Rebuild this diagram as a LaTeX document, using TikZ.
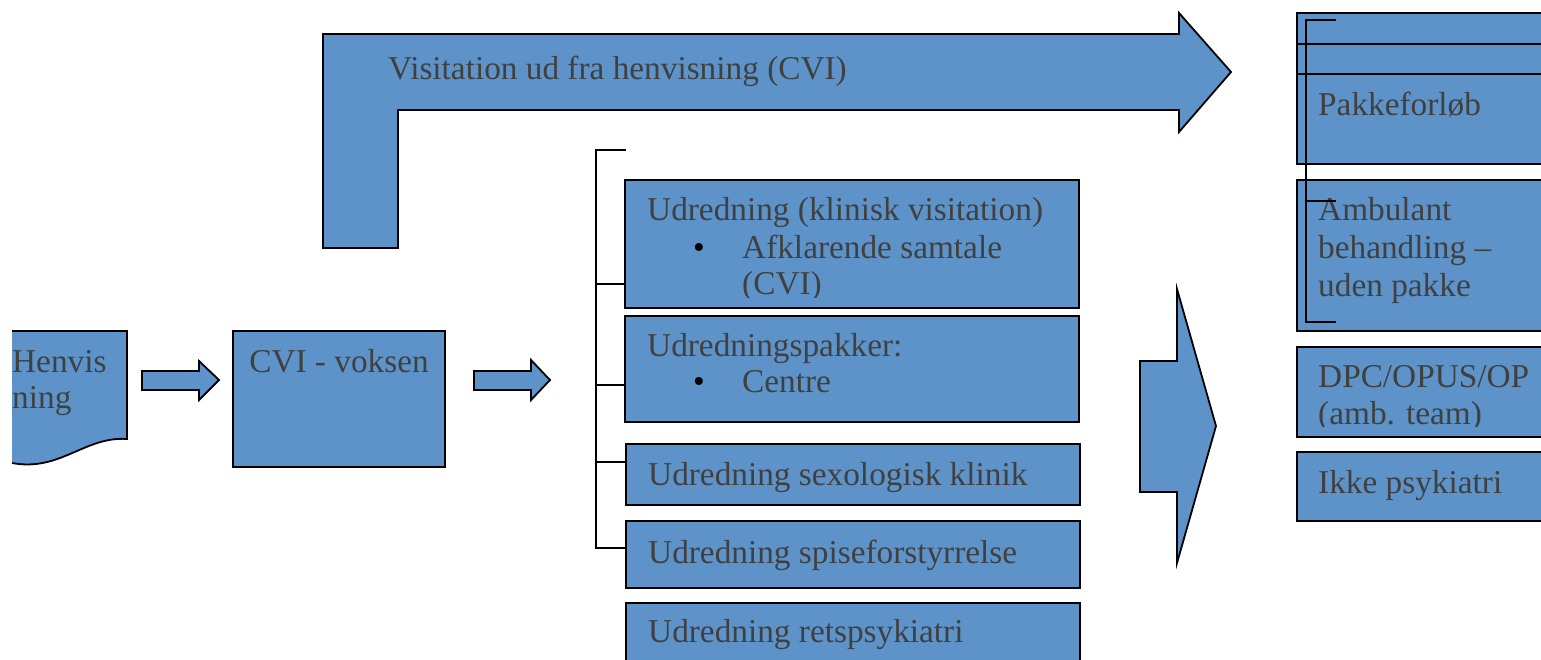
\documentclass[tikz,border=0pt]{standalone}
\usepackage{fontspec}
\setmainfont{Liberation Serif}
\usetikzlibrary{positioning}
\definecolor{boxblue}{RGB}{93,147,200}
\definecolor{txtgray}{RGB}{64,64,64}

\begin{document}
\begin{tikzpicture}[
  x=1pt, y=-1pt,
  box/.style={draw, fill=boxblue, line width=1.8pt, anchor=north west, inner sep=0pt, outer sep=0pt},
  bigarrow/.style={draw, fill=boxblue, line width=1.8pt, line join=miter},
  txt/.style={font=\fontsize{33.3}{36.5}\selectfont, text=txtgray, anchor=base west, inner sep=0pt},
  dot/.style={txt, text=black, anchor=base},
  brace/.style={line width=1.6pt}
]
\useasboundingbox (0,0) rectangle (1541,659);
\clip (0,0) rectangle (1541,659);

% --- Henvisning (dokument) ---
\path[fill=boxblue] (12,331) -- (127,331) -- (127,439)
  .. controls (85,436) and (60,472) .. (12,463) -- cycle;
\draw[line width=1.8pt] (12,331) -- (127,331) -- (127,439)
  .. controls (85,436) and (60,472) .. (12,463);
\node[txt] (henv1) at (12,372) {Henvis};
\node[txt] (henv2) at (12,408) {ning};

% --- Små pile ---
\draw[bigarrow] (142,371) -- (199,371) -- (199,361) -- (219,380) -- (199,400) -- (199,390) -- (142,390) -- cycle;
\draw[bigarrow] (474,371) -- (531,371) -- (531,360) -- (550,380) -- (531,400) -- (531,390) -- (474,390) -- cycle;

% --- CVI ---
\node[box, minimum width=212pt, minimum height=136pt] (cvi) at (233,331) {};
\node[txt, anchor=base] (cvit) at ([yshift=-41pt]cvi.north) {CVI - voksen};

% --- Visitation (vinkelpil) ---
\draw[bigarrow] (323,248) -- (323,34) -- (1179,34) -- (1179,13) -- (1231,72)
  -- (1179,132) -- (1179,110) -- (398,110) -- (398,248) -- cycle;
\node[txt] (visit) at (388,79) {Visitation ud fra henvisning (CVI)};

% --- Udredning ---
\node[box, minimum width=454pt, minimum height=128pt] (udr1) at (625,180) {};
\node[box, minimum width=454pt, minimum height=106pt] (udr2) at (625,316) {};
\node[box, minimum width=454pt, minimum height=61pt] (udr3) at (626,444) {};
\node[box, minimum width=454pt, minimum height=67pt] (udr4) at (626,521) {};
\node[box, minimum width=454pt, minimum height=80pt] (udr5) at (626,603) {};

\node[txt] (udr1a) at ([xshift=22pt,yshift=-40pt]udr1.north west) {Udredning (klinisk visitation)};
\node[dot] (udr1d) at ([xshift=74pt,yshift=-78pt]udr1.north west) {\textbullet};
\node[txt] (udr1b) at ([xshift=117pt,yshift=-78pt]udr1.north west) {Afklarende samtale};
\begin{scope}
  \clip ([yshift=11pt]udr1.south west) rectangle (udr1.north east);
  \node[txt] (udr1c) at ([xshift=117pt,yshift=-114pt]udr1.north west) {(CVI)};
\end{scope}
\node[txt] (udr2a) at ([xshift=22pt,yshift=-40pt]udr2.north west) {Udredningspakker:};
\node[dot] (udr2d) at ([xshift=74pt,yshift=-76pt]udr2.north west) {\textbullet};
\node[txt] (udr2b) at ([xshift=117pt,yshift=-76pt]udr2.north west) {Centre};
\node[txt] (udr3a) at ([xshift=22pt,yshift=-41pt]udr3.north west) {Udredning sexologisk klinik};
\node[txt] (udr4a) at ([xshift=22pt,yshift=-42pt]udr4.north west) {Udredning spiseforstyrrelse};
\node[txt] (udr5a) at ([xshift=22pt,yshift=-39pt]udr5.north west) {Udredning retspsykiatri};

% --- Klamme til udredning ---
\coordinate (kl0) at (596,150);
\coordinate (kl0e) at (626,150);
\coordinate (kl1) at (596,284);
\coordinate (kl2) at (596,385);
\coordinate (kl3) at (596,462);
\coordinate (kl4) at (596,548);
\draw[brace] (kl0e) -- (kl0) -- (kl4) -- (kl4 -| udr4.west);
\draw[brace] (kl1) -- (kl1 -| udr1.west);
\draw[brace] (kl2) -- (kl2 -| udr2.west);
\draw[brace] (kl3) -- (kl3 -| udr3.west);

% --- Stor pil mod forløb ---
\draw[bigarrow] (1140,361) -- (1177,361) -- (1177,289) -- (1216,426) -- (1177,563)
  -- (1177,492) -- (1140,492) -- cycle;

% --- Forløb ---
\node[box, minimum width=270pt, minimum height=151pt] (pakke) at (1297,13) {};
\node[box, minimum width=270pt, minimum height=151pt] (amb) at (1297,180) {};
\node[box, minimum width=270pt, minimum height=90pt] (dpc) at (1297,347) {};
\node[box, minimum width=270pt, minimum height=69pt] (ikke) at (1297,452) {};

\coordinate (pl1) at (1297,44);
\coordinate (pl2) at (1297,74);
\draw[line width=1.8pt] (pl1) -- (pl1 -| pakke.east);
\draw[line width=1.8pt] (pl2) -- (pl2 -| pakke.east);

\node[txt] (pakket) at ([xshift=21pt,yshift=-102pt]pakke.north west) {Pakkeforløb};
\node[txt] (amb1) at ([xshift=21pt,yshift=-40pt]amb.north west) {Ambulant};
\node[txt] (amb2) at ([xshift=21pt,yshift=-78pt]amb.north west) {behandling –};
\node[txt] (amb3) at ([xshift=21pt,yshift=-116pt]amb.north west) {uden pakke};
\node[txt] (dpc1) at ([xshift=21pt,yshift=-40pt]dpc.north west) {DPC/OPUS/OP};
\begin{scope}
  \clip ([yshift=11pt]dpc.south west) rectangle (dpc.north east);
  \node[txt] (dpc2) at ([xshift=21pt,yshift=-77pt]dpc.north west) {(amb. team)};
\end{scope}
\node[txt] (ikket) at ([xshift=21pt,yshift=-41pt]ikke.north west) {Ikke psykiatri};

% --- Klamme til forløb ---
\coordinate (kr0) at (1306,20);
\coordinate (kr1) at (1306,201);
\coordinate (kr2) at (1306,322);
\draw[brace] ([xshift=30pt]kr0) -- (kr0) -- (kr2) -- ([xshift=30pt]kr2);
\draw[brace] (kr1) -- ([xshift=30pt]kr1);

\end{tikzpicture}
\end{document}
